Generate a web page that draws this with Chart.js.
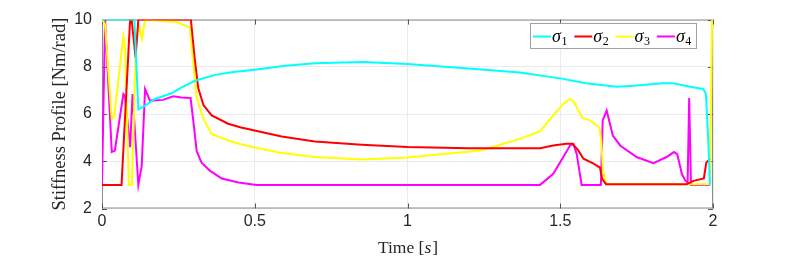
<!DOCTYPE html>
<html>
<head>
<meta charset="utf-8">
<script src="https://cdn.jsdelivr.net/npm/chart.js@4.4.1/dist/chart.umd.min.js"></script>
<style>
  html, body { margin: 0; padding: 0; background: #fff; }
</style>
</head>
<body>
<canvas id="stiffChart" width="789" height="259"></canvas>
<script>
// time stamps [s] and stiffness values [Nm/rad]
const t1 = [0, 0.106, 0.119, 0.141, 0.173, 0.228, 0.261, 0.304, 0.37, 0.43, 0.5, 0.6, 0.697, 0.855, 1.0, 1.2, 1.368, 1.505, 1.584, 1.685, 1.74, 1.837, 1.87, 1.925, 1.968, 1.977, 1.985, 1.99];
const sigma1 = [10, 10, 6.2, 6.36, 6.64, 6.88, 7.13, 7.41, 7.66, 7.78, 7.88, 8.05, 8.15, 8.2, 8.12, 7.93, 7.76, 7.5, 7.3, 7.16, 7.2, 7.3, 7.3, 7.16, 7.06, 6.85, 4.75, 3.0];

const t2 = [0, 0.064, 0.092, 0.097, 0.110, 0.119, 0.291, 0.297, 0.304, 0.315, 0.332, 0.359, 0.413, 0.455, 0.5, 0.588, 0.697, 0.85, 1.0, 1.2, 1.434, 1.477, 1.52, 1.54, 1.559, 1.576, 1.609, 1.63, 1.637, 1.65, 1.914, 1.936, 1.97, 1.978, 1.99];
const sigma2 = [3, 3, 10, 10, 8.4, 10, 10, 9.2, 8.3, 7.1, 6.38, 5.94, 5.59, 5.43, 5.3, 5.05, 4.84, 4.7, 4.6, 4.55, 4.55, 4.67, 4.74, 4.74, 4.46, 4.11, 3.9, 3.73, 3.26, 3.03, 3.03, 3.17, 3.27, 3.94, 4.1];

const t3 = [0, 0.01, 0.032, 0.04, 0.07, 0.075, 0.088, 0.098, 0.112, 0.123, 0.131, 0.141, 0.244, 0.288, 0.299, 0.31, 0.332, 0.359, 0.413, 0.455, 0.5, 0.588, 0.697, 0.85, 1.0, 1.24, 1.368, 1.434, 1.477, 1.51, 1.532, 1.543, 1.573, 1.597, 1.628, 1.634, 1.64, 1.65, 1.99, 1.997];
const sigma3 = [10, 9.8, 5.8, 5.9, 9.3, 8.9, 3.0, 3.0, 9.35, 9.63, 9.18, 10, 9.9, 9.66, 8.09, 6.7, 5.8, 5.16, 4.88, 4.72, 4.58, 4.35, 4.18, 4.08, 4.16, 4.46, 4.95, 5.27, 5.94, 6.43, 6.64, 6.55, 5.84, 5.73, 5.44, 4.9, 3.62, 3.03, 3.03, 10];

const t4 = [0, 0.01, 0.032, 0.042, 0.07, 0.075, 0.092, 0.10, 0.119, 0.13, 0.141, 0.157, 0.2, 0.233, 0.26, 0.29, 0.299, 0.31, 0.326, 0.354, 0.392, 0.447, 0.506, 1.434, 1.477, 1.51, 1.532, 1.543, 1.554, 1.57, 1.633, 1.639, 1.652, 1.672, 1.696, 1.75, 1.805, 1.848, 1.872, 1.883, 1.898, 1.909, 1.917, 1.922, 1.928, 1.99];
const sigma4 = [3, 10, 4.39, 4.45, 6.85, 6.78, 4.6, 6.85, 3.0, 3.8, 7.06, 6.57, 6.6, 6.75, 6.7, 6.68, 5.7, 4.43, 3.94, 3.59, 3.27, 3.1, 3.0, 3.0, 3.47, 4.18, 4.67, 4.74, 4.3, 3.0, 3.0, 5.73, 6.15, 5.09, 4.67, 4.18, 3.92, 4.18, 4.39, 4.3, 3.47, 3.19, 3.1, 6.68, 3.0, 3.0];

const xTicks = [0, 0.5, 1, 1.5, 2];
const yTicks = [2, 4, 6, 8, 10];
const legendSubs = ['1', '2', '3', '4'];

function toPoints(ts, vs) {
    return ts.map((t, i) => ({ x: t, y: vs[i] }));
}

const axisColor = '#262626';

// box + inward tick marks, like a matlab axes
const framePlugin = {
    id: 'frame',
    beforeDatasetsDraw(chart) {
        const { ctx, chartArea: a, scales } = chart;
        ctx.save();
        ctx.strokeStyle = '#8c8c8c';
        ctx.lineWidth = 1;
        ctx.strokeRect(a.left + 0.5, a.top + 0.5, a.right - a.left - 1, a.bottom - a.top - 1);
        ctx.strokeStyle = '#555';
        ctx.beginPath();
        xTicks.forEach(v => {
            const x = Math.round(scales.x.getPixelForValue(v)) + 0.5;
            ctx.moveTo(x, a.bottom); ctx.lineTo(x, a.bottom - 5);
            ctx.moveTo(x, a.top); ctx.lineTo(x, a.top + 5);
        });
        yTicks.forEach(v => {
            const y = Math.round(scales.y.getPixelForValue(v)) + 0.5;
            ctx.moveTo(a.left, y); ctx.lineTo(a.left + 5, y);
            ctx.moveTo(a.right, y); ctx.lineTo(a.right - 5, y);
        });
        ctx.stroke();
        ctx.restore();
    },
    afterDraw(chart) {
        const { ctx, chartArea: a } = chart;
        // x axis title with italic s
        ctx.save();
        ctx.fillStyle = axisColor;
        ctx.textBaseline = 'alphabetic';
        const reg = '17.5px "Liberation Serif"';
        const ita = 'italic 17.5px "Liberation Serif"';
        ctx.font = reg;
        const w1 = ctx.measureText('Time [').width;
        const w3 = ctx.measureText(']').width;
        ctx.font = ita;
        const w2 = ctx.measureText('s').width;
        let x = (a.left + a.right) / 2 - (w1 + w2 + w3) / 2;
        const y = 253;
        ctx.font = reg; ctx.fillText('Time [', x, y); x += w1;
        ctx.font = ita; ctx.fillText('s', x, y); x += w2 + 1;
        ctx.font = reg; ctx.fillText(']', x, y);
        ctx.restore();
    }
};

const legendPlugin = {
    id: 'boxLegend',
    afterDatasetsDraw(chart) {
        const { ctx } = chart;
        const bx = 530.5, by = 23.5, bw = 166, bh = 25;
        ctx.save();
        ctx.fillStyle = '#fff';
        ctx.fillRect(bx, by, bw, bh);
        ctx.strokeStyle = '#a0a0a0';
        ctx.lineWidth = 1;
        ctx.strokeRect(bx, by, bw, bh);
        chart.data.datasets.forEach((ds, i) => {
            const x0 = 533 + i * 41.3;
            ctx.strokeStyle = ds.borderColor;
            ctx.lineWidth = 2;
            ctx.beginPath();
            ctx.moveTo(x0, 36.5);
            ctx.lineTo(x0 + 18, 36.5);
            ctx.stroke();
            ctx.fillStyle = '#000';
            ctx.font = 'italic 18px "Liberation Serif"';
            ctx.fillText('σ', x0 + 19, 42);
            const ws = ctx.measureText('σ').width;
            ctx.font = '12px "Liberation Serif"';
            ctx.fillText(legendSubs[i], x0 + 19 + ws + 0.5, 45);
        });
        ctx.restore();
    }
};

function lineSet(ts, vs, color) {
    return {
        data: toPoints(ts, vs),
        borderColor: color,
        backgroundColor: color,
        borderWidth: 2,
        pointRadius: 0,
        tension: 0,
        fill: false
    };
}

const chart = new Chart(document.getElementById('stiffChart').getContext('2d'), {
    type: 'line',
    data: {
        datasets: [
            lineSet(t1, sigma1, '#00ffff'),
            lineSet(t2, sigma2, '#ff0000'),
            lineSet(t3, sigma3, '#ffff00'),
            lineSet(t4, sigma4, '#ff00ff')
        ]
    },
    options: {
        responsive: false,
        animation: false,
        devicePixelRatio: 1,
        layout: { padding: { top: 19, right: 76, left: 0, bottom: 0 } },
        plugins: {
            legend: { display: false },
            tooltip: { enabled: false }
        },
        scales: {
            x: {
                type: 'linear',
                min: 0,
                max: 2,
                afterBuildTicks: s => { s.ticks = xTicks.map(v => ({ value: v })); },
                afterFit: s => { s.height = 50.5; },
                ticks: {
                    color: axisColor,
                    padding: 3,
                    maxRotation: 0,
                    callback: v => String(v),
                    font: { family: '"Liberation Sans"', size: 16 }
                },
                grid: { color: '#ebebeb', drawTicks: false },
                border: { display: false }
            },
            y: {
                type: 'linear',
                min: 2,
                max: 10,
                afterBuildTicks: s => { s.ticks = yTicks.map(v => ({ value: v })); },
                afterFit: s => { s.width = 102; },
                ticks: {
                    color: axisColor,
                    padding: 10,
                    callback: v => String(v),
                    font: { family: '"Liberation Sans"', size: 16 }
                },
                grid: { color: '#ebebeb', drawTicks: false },
                border: { display: false },
                title: {
                    display: true,
                    text: 'Stiffness Profile [Nm/rad]',
                    color: axisColor,
                    padding: { top: 49, bottom: 0 },
                    font: { family: '"Liberation Serif"', size: 18.5 }
                }
            }
        }
    },
    plugins: [framePlugin, legendPlugin]
});
</script>
</body>
</html>
